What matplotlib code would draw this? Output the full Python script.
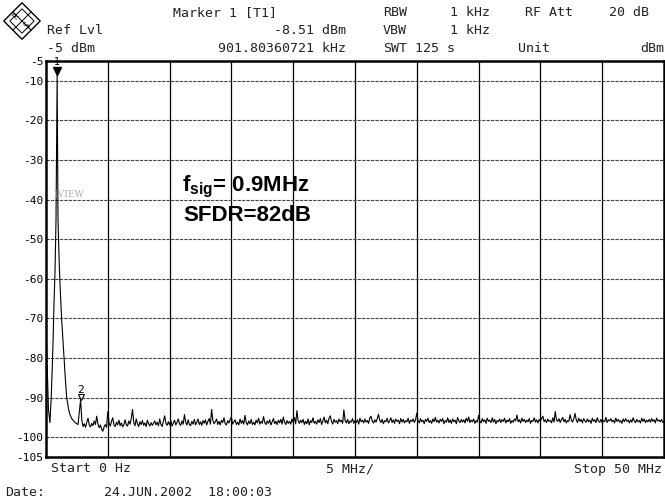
import matplotlib
matplotlib.use("Agg")
import matplotlib.pyplot as plt
import numpy as np
from matplotlib import transforms
from matplotlib.patches import Polygon

W, H = 665, 501
MONO = "DejaVu Sans Mono"

plt.rcParams["mathtext.fontset"] = "custom"
plt.rcParams["mathtext.rm"] = "Liberation Sans:bold"
plt.rcParams["mathtext.bf"] = "Liberation Sans:bold"

# trace around DC and the carrier (MHz, dBm)
skirt_freq = [0.0, 0.12, 0.20, 0.32, 0.42, 0.49, 0.57, 0.65, 0.73, 0.81,
              0.90180360721, 0.97, 1.08, 1.17, 1.27, 1.38, 1.46, 1.56, 1.67,
              1.82, 1.94, 2.10, 2.35, 2.59]
skirt_level = [-72.0, -85.0, -93.0, -96.3, -90.0, -84.0, -76.0, -66.0, -58.0, -45.0,
               -8.51, -45.0, -57.0, -64.0, -70.4, -76.0, -80.0, -85.0, -89.9,
               -92.8, -94.3, -95.4, -96.3, -96.8]

# noise floor, one point every 0.1 MHz starting at 2.8 MHz
floor_start = 2.8
floor_step = 0.1
floor_level = [
    -90.5, -95.8, -97.3, -96.6, -97.5, -96.2, -95.2, -96.9, -97.4, -96.5,
    -97.1, -95.9, -96.8, -94.7, -96.6, -97.6, -96.9, -98.0, -98.5, -97.4,
    -96.8, -97.5, -93.5, -96.4, -97.2, -96.0, -95.1, -96.9, -97.3, -96.2,
    -96.9, -95.7, -97.1, -96.4, -97.4, -96.8, -95.6, -96.9, -97.2, -95.9,
    -96.7, -95.2, -93.0, -96.3, -97.1, -95.4, -96.6, -97.3, -96.1, -96.8,
    -95.8, -97.0, -96.4, -97.3, -95.7, -96.6, -97.2, -96.3, -97.0, -96.5,
    -95.9, -96.9, -96.2, -97.1, -95.4, -96.8, -97.3, -96.0, -94.6, -96.5,
    -97.0, -96.1, -96.9, -95.8, -97.2, -96.4, -95.7, -96.9, -96.3, -95.4,
    -96.6, -97.0, -95.9, -96.7, -94.3, -96.2, -96.9, -95.6, -96.8, -97.1,
    -96.0, -96.7, -95.5, -96.9, -96.2, -95.4, -96.8, -96.1, -97.0, -95.8,
    -96.5, -95.6, -96.9, -96.0, -95.3, -96.7, -93.0, -95.8, -96.6, -96.1,
    -95.4, -96.8, -96.0, -96.9, -95.7, -96.3, -95.1, -96.6, -96.9, -95.8,
    -96.4, -95.5, -94.9, -96.7, -96.1, -95.6, -96.8, -96.2, -96.9, -95.4,
    -96.5, -95.8, -96.7, -94.5, -96.3, -96.9, -95.9, -96.6, -95.5, -96.8,
    -96.2, -96.9, -95.7, -96.4, -95.2, -96.7, -96.0, -96.5, -94.8, -96.3,
    -96.8, -95.9, -96.5, -95.6, -96.9, -96.1, -95.3, -96.6, -96.0, -96.8,
    -95.7, -96.4, -95.5, -96.7, -94.9, -96.2, -96.8, -95.8, -96.5, -96.0,
    -96.7, -95.4, -96.3, -95.0, -96.6, -93.3, -95.9, -96.5, -95.7, -96.3,
    -95.5, -96.8, -96.0, -96.6, -95.4, -96.9, -95.8, -96.3, -95.1, -96.5,
    -96.0, -96.7, -95.6, -96.3, -95.3, -96.8, -95.9, -94.9, -96.4, -95.7,
    -96.6, -95.2, -94.6, -96.0, -96.7, -95.5, -96.2, -95.8, -96.6, -95.4,
    -96.1, -95.7, -96.5, -93.1, -95.8, -96.4, -95.5, -96.6, -95.9, -96.2,
    -95.3, -96.5, -95.8, -96.3, -95.6, -96.7, -95.2, -96.1, -95.7, -96.4,
    -95.4, -96.2, -95.8, -96.5, -95.1, -94.7, -96.0, -96.4, -95.6, -96.2,
    -95.3, -94.2, -95.7, -96.3, -95.5, -96.6, -95.8, -96.1, -95.2, -96.4,
    -95.9, -95.1, -96.3, -95.6, -96.5, -95.4, -96.0, -95.7, -96.6, -95.3,
    -96.2, -95.5, -96.4, -95.8, -96.1, -95.2, -96.5, -95.7, -96.0, -95.4,
    -96.3, -95.6, -93.9, -95.8, -96.4, -95.3, -96.1, -95.7, -96.6, -95.5,
    -96.0, -95.2, -96.3, -95.8, -96.5, -95.4, -96.1, -95.0, -96.2, -95.7,
    -96.4, -95.5, -96.0, -95.3, -96.6, -95.8, -96.2, -95.1, -96.3, -95.6,
    -96.5, -95.4, -96.1, -95.7, -96.6, -95.0, -95.9, -96.3, -95.5, -96.2,
    -95.6, -96.4, -95.2, -96.0, -94.9, -96.3, -95.7, -96.1, -95.4, -96.5,
    -95.8, -96.2, -94.5, -95.9, -96.4, -95.3, -96.1, -95.6, -96.5, -95.2,
    -96.0, -95.7, -96.3, -95.1, -96.2, -95.5, -96.6, -95.8, -96.1, -95.4,
    -96.3, -95.6, -96.0, -95.2, -96.4, -95.7, -96.1, -95.3, -96.5, -95.8,
    -96.2, -95.4, -95.9, -94.4, -96.1, -95.6, -96.4, -95.2, -96.0, -95.5,
    -96.3, -95.7, -96.1, -95.3, -96.5, -95.8, -96.0, -95.1, -96.2, -95.6,
    -96.4, -95.5, -96.0, -95.2, -94.7, -96.1, -95.6, -96.3, -95.4, -96.0,
    -95.8, -96.4, -95.1, -96.2, -93.5, -95.7, -96.0, -95.3, -96.3, -95.6,
    -95.0, -96.1, -95.5, -96.4, -95.8, -96.0, -94.3, -95.7, -96.2, -95.4,
    -94.0, -95.6, -96.3, -95.2, -96.0, -95.5, -96.4, -95.3, -95.9, -96.2,
    -95.4, -96.1, -95.7, -96.5, -95.2, -96.0, -95.6, -96.3, -95.1, -95.9,
    -96.2, -95.5, -96.4, -95.8, -96.1, -95.0, -96.3, -95.6, -95.9, -95.3,
    -96.1, -95.7, -96.4, -95.2, -96.0, -95.5, -96.2, -95.8, -96.5, -95.4,
    -96.1, -95.3, -96.0, -95.7, -96.4, -95.6, -96.2, -95.1, -95.9, -96.3,
    -95.5, -96.1, -95.8, -96.4, -95.2, -96.0, -95.4, -96.3, -95.7, -96.1,
    -95.5, -96.2, -95.3, -96.0, -95.6, -96.4, -95.2, -95.9, -95.7, -96.1,
    -95.5, -96.3, -95.9,
]

marker1 = (0.90180360721, -8.51)
marker2 = (2.8, -90.5)

y_ticks = [-5, -10, -20, -30, -40, -50, -60, -70, -80, -90, -100, -105]
x_grid = [5, 10, 15, 20, 25, 30, 35, 40, 45]
y_grid = [-10, -20, -30, -40, -50, -60, -70, -80, -90, -100]


def fx(x):
    return x / W


def fy(y):
    return 1 - y / H


fig = plt.figure(figsize=(W / 100, H / 100), dpi=100)
ax = fig.add_axes([fx(46), fy(457), 618 / W, 396 / H])

freq = np.concatenate([skirt_freq, floor_start + floor_step * np.arange(len(floor_level))])
level = np.concatenate([skirt_level, floor_level])

for x in x_grid:
    ax.axvline(x, color="black", lw=0.9, zorder=1)
for y in y_grid:
    ax.axhline(y, color="#444444", lw=0.8, ls=(0, (3, 1)), zorder=1)

ax.plot(freq, level, color="black", lw=0.8, zorder=3)

# marker symbols sit just above the trace point
up_small = transforms.offset_copy(ax.transData, fig=fig, x=0, y=2.5, units="points")
ax.plot(*marker1, marker="v", ms=6, color="black", transform=up_small, zorder=4, clip_on=False)
ax.annotate("1", marker1, xytext=(0, 9), textcoords="offset points", ha="center",
            va="center", fontsize=7, family=MONO, annotation_clip=False)
ax.plot(*marker2, marker="v", ms=4.5, mfc="white", mec="black", mew=0.8,
        transform=transforms.offset_copy(ax.transData, fig=fig, x=0, y=1.5, units="points"),
        zorder=4)
ax.annotate("2", marker2, xytext=(0, 7), textcoords="offset points", ha="center",
            va="center", fontsize=8, family=MONO)

ax.text(0.57, -38.8, "1VIEW", fontsize=6.5, family="DejaVu Serif", color="#b0b0b0",
        va="center", ha="left")

ax.text(11.0, -36.8, r"f$_{\mathrm{sig}}$= 0.9MHz", fontsize=16, family="Liberation Sans",
        weight="bold", va="center", ha="left")
ax.text(11.1, -43.9, "SFDR=82dB", fontsize=16, family="Liberation Sans",
        weight="bold", va="center", ha="left")

ax.set_xlim(0, 50)
ax.set_ylim(-105, -5)
ax.set_xticks([])
ax.set_yticks(y_ticks)
ax.set_yticklabels([str(v) for v in y_ticks], family=MONO, fontsize=8)
ax.tick_params(axis="y", length=0, pad=2)
for s in ax.spines.values():
    s.set_linewidth(1.8)

# instrument header
hdr = dict(family=MONO, fontsize=9.5, va="center", color="#222222")
fig.text(fx(173), fy(13), "Marker 1 [T1]", **hdr)
fig.text(fx(383), fy(13), "RBW", **hdr)
fig.text(fx(450), fy(13), "1 kHz", **hdr)
fig.text(fx(525), fy(13), "RF Att", **hdr)
fig.text(fx(649), fy(13), "20 dB", ha="right", **hdr)
fig.text(fx(47), fy(31), "Ref Lvl", **hdr)
fig.text(fx(346), fy(31), "-8.51 dBm", ha="right", **hdr)
fig.text(fx(383), fy(31), "VBW", **hdr)
fig.text(fx(450), fy(31), "1 kHz", **hdr)
fig.text(fx(47), fy(48), "-5 dBm", **hdr)
fig.text(fx(346), fy(48), "901.80360721 kHz", ha="right", **hdr)
fig.text(fx(383), fy(48), "SWT", **hdr)
fig.text(fx(415), fy(48), "125 s", **hdr)
fig.text(fx(518), fy(48), "Unit", **hdr)
fig.text(fx(664), fy(48), "dBm", ha="right", **hdr)

fig.text(fx(51), fy(469), "Start 0 Hz", **hdr)
fig.text(fx(326), fy(469), "5 MHz/", **hdr)
fig.text(fx(662), fy(469), "Stop 50 MHz", ha="right", **hdr)
fig.text(fx(5), fy(493), "Date:", **hdr)
fig.text(fx(104), fy(493), "24.JUN.2002  18:00:03", **hdr)

# R&S logo
lg = fig.add_axes([fx(3), fy(40), 38 / W, 38 / H])
lg.set_xlim(0, 1)
lg.set_ylim(0, 1)
lg.axis("off")
lg.add_patch(Polygon([(0.5, 0.02), (0.98, 0.5), (0.5, 0.98), (0.02, 0.5)],
                     closed=True, fill=False, lw=1.0, ec="black"))
lg.add_patch(Polygon([(0.5, 0.18), (0.82, 0.5), (0.5, 0.82), (0.18, 0.5)],
                     closed=True, fill=False, lw=0.7, ec="black"))
lg.plot([0.26, 0.74], [0.26, 0.74], color="black", lw=0.7)
lg.plot([0.26, 0.74], [0.74, 0.26], color="black", lw=0.7)
lg.text(0.36, 0.62, "R", fontsize=5.5, rotation=45, ha="center", va="center", family=MONO)
lg.text(0.64, 0.38, "S", fontsize=5.5, rotation=45, ha="center", va="center", family=MONO)

fig.savefig("out.png", dpi=100)
